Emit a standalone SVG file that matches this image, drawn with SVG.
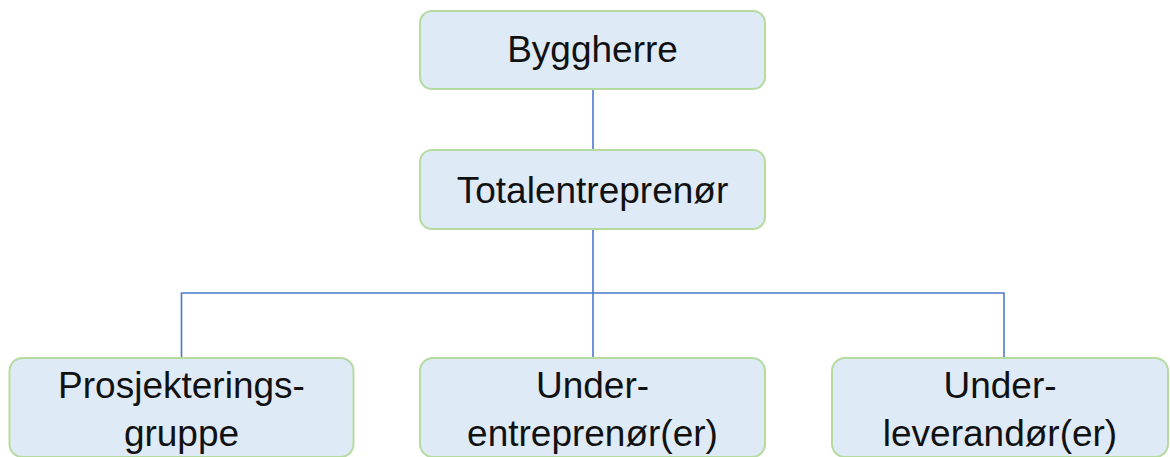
<svg xmlns="http://www.w3.org/2000/svg" width="1170" height="457" viewBox="0 0 1170 457">
<style>
.box{fill:#deeaf6;stroke:#b5dba0;stroke-width:2}
.t{font-family:"Liberation Sans",Arial,sans-serif;font-size:37px;fill:#111;text-anchor:middle}
.c{fill:none;stroke:#4a78cc;stroke-width:1.6}
</style>
<rect width="1170" height="457" fill="#fff"/>
<g id="connectors">
<line class="c" x1="593" y1="89" x2="593" y2="150"/>
<line class="c" x1="593" y1="229" x2="593" y2="358"/>
<polyline class="c" points="181.5,358 181.5,293 1004,293 1004,358"/>
</g>
<g id="byggherre">
<rect class="box" x="420" y="11" width="345" height="78" rx="12"/>
<text class="t" x="592.5" y="62">Byggherre</text>
</g>
<g id="totalentreprenor">
<rect class="box" x="420" y="150" width="345" height="79" rx="12"/>
<text class="t" x="592.5" y="203">Totalentreprenør</text>
</g>
<g id="prosjekteringsgruppe">
<rect class="box" x="9.5" y="358" width="344" height="99" rx="13"/>
<text class="t" x="181.5" y="398">Prosjekterings-</text>
<text class="t" x="181.5" y="446">gruppe</text>
</g>
<g id="underentreprenor">
<rect class="box" x="420" y="358" width="345" height="99" rx="13"/>
<text class="t" x="592.5" y="398">Under-</text>
<text class="t" x="592.5" y="446">entreprenør(er)</text>
</g>
<g id="underleverandor">
<rect class="box" x="832" y="358" width="336" height="99" rx="13"/>
<text class="t" x="1000" y="398">Under-</text>
<text class="t" x="1000" y="446">leverandør(er)</text>
</g>
</svg>
